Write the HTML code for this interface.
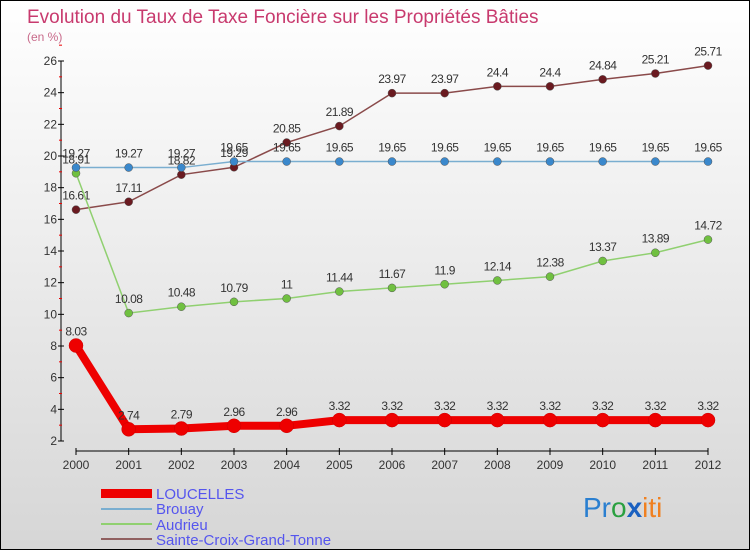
<!DOCTYPE html>
<html><head><meta charset="utf-8"><style>
body{margin:0;}
#wrap{width:750px;height:550px;position:relative;box-sizing:border-box;border:1px solid #000;background:linear-gradient(#ffffff,#d6d6d6);font-family:"Liberation Sans",sans-serif;overflow:hidden}
svg text{font-family:"Liberation Sans",sans-serif}
</style></head><body>
<div id="wrap">
<svg id="svg" width="750" height="550">
<text x="26" y="22" font-size="19" fill="#c83a6e">Evolution du Taux de Taxe Foncière sur les Propriétés Bâties</text>
<text x="26" y="40" font-size="12" fill="#c86a8a">(en %)</text>
<g id="axes"></g><g id="series"></g>
<g>
<rect x="100" y="488" width="51" height="9" fill="#e00"/>
<text x="155" y="498" font-size="15" fill="#5555ee">LOUCELLES</text>
<rect x="100" y="507" width="51" height="2" fill="#7aaed0"/>
<text x="155" y="513" font-size="15" fill="#5555ee">Brouay</text>
<rect x="100" y="522" width="51" height="2" fill="#90d070"/>
<text x="155" y="529" font-size="15" fill="#5555ee">Audrieu</text>
<rect x="100" y="537" width="51" height="2" fill="#906060"/>
<text x="155" y="544" font-size="15" fill="#5555ee">Sainte-Croix-Grand-Tonne</text>
</g>
<text x="582" y="516" font-size="28"><tspan fill="#2a7fd0">Pr</tspan><tspan fill="#2aa040">o</tspan><tspan fill="#1a60c0" font-weight="bold">x</tspan><tspan fill="#f08020">iti</tspan></text>
</svg>
</div>
<script>
const years=[2000,2001,2002,2003,2004,2005,2006,2007,2008,2009,2010,2011,2012];
const loucelles=[8.03,2.74,2.79,2.96,2.96,3.32,3.32,3.32,3.32,3.32,3.32,3.32,3.32];
const brouay=[19.27,19.27,19.27,19.65,19.65,19.65,19.65,19.65,19.65,19.65,19.65,19.65,19.65];
const audrieu=[18.91,10.08,10.48,10.79,11,11.44,11.67,11.9,12.14,12.38,13.37,13.89,14.72];
const sainteCroix=[16.61,17.11,18.82,19.29,20.85,21.89,23.97,23.97,24.4,24.4,24.84,25.21,25.71];
const yTicks=[2,4,6,8,10,12,14,16,18,20,22,24,26];
const NS="http://www.w3.org/2000/svg";
const X=i=>75+i*(707-75)/(years.length-1);
const Y=v=>440-(v-2)*(380/24);
function mk(tag,attrs,parent){const e=document.createElementNS(NS,tag);for(const k in attrs)e.setAttribute(k,attrs[k]);parent.appendChild(e);return e;}
const axes=document.getElementById('axes'),ser=document.getElementById('series');
let a=mk('line',{x1:60,y1:Y(26),x2:60,y2:Y(2),stroke:'#000'},axes);


yTicks.forEach(t=>{
 mk('line',{x1:57,x2:63,y1:Y(t),y2:Y(t),stroke:'#000'},axes);
 mk('line',{x1:58,x2:61,y1:Y(t+1),y2:Y(t+1),stroke:'#e00'},axes);
 const tx=mk('text',{x:56,y:Y(t)+4,'font-size':12,'text-anchor':'end',fill:'#333'},axes);tx.textContent=t;
 
 
});
a=mk('line',{x1:75,y1:450,x2:707,y2:450,stroke:'#000'},axes);


years.forEach((y,i)=>{
 mk('line',{x1:X(i),x2:X(i),y1:447,y2:454,stroke:'#000'},axes);
 const tx=mk('text',{x:X(i),y:468,'font-size':12,'text-anchor':'middle',fill:'#333'},axes);tx.textContent=y;
 
 
});
function draw(vals,name,color,dot,lw,r){
 const g=mk('g',{},ser);
 
 
 mk('polyline',{points:vals.map((v,i)=>X(i)+','+Y(v)).join(' '),fill:'none',stroke:color,'stroke-width':lw},g);
 vals.forEach((v,i)=>{
  const c=mk('circle',{cx:X(i),cy:Y(v),r:r,fill:dot,stroke:dot==='#e00'?'#c00':'#555','stroke-width':0.5},g);
  
  
  const t=mk('text',{x:X(i),y:Y(v)-10,'font-size':12,'text-anchor':'middle',fill:'#333','letter-spacing':'-0.5'},g);t.textContent=v;
  
  
 });
}
draw(sainteCroix,'sainte-croix','#8a4a4a','#6a1a20',1.5,4);
draw(audrieu,'audrieu','#90d070','#70c040',1.5,4);
draw(brouay,'brouay','#7aaed0','#3a88cc',1.5,4);
draw(loucelles,'loucelles','#e00','#e00',8,7);
</script>
</body></html>
